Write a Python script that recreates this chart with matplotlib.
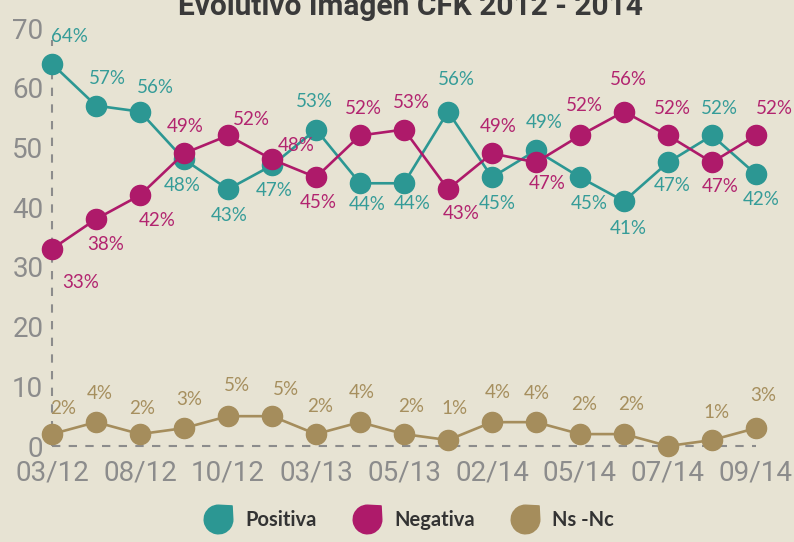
import matplotlib
matplotlib.use("Agg")
import matplotlib.pyplot as plt
import numpy as np
from matplotlib.path import Path
from matplotlib.lines import Line2D

# ---------------- data ----------------
fechas = ["03/12", "", "08/12", "", "10/12", "", "03/13", "", "05/13", "",
          "02/14", "", "05/14", "", "07/14", "", "09/14"]
positiva = [64, 57, 56, 48, 43, 47, 53, 44, 44, 56, 45, 49.5, 45, 41, 47.5, 52, 45.5]
negativa = [33, 38, 42, 49, 52, 48, 45, 52, 53, 43, 49, 47.5, 52, 56, 52, 47.5, 52]
nsnc = [2, 4, 2, 3, 5, 5, 2, 4, 2, 1, 4, 4, 2, 2, 0, 1, 3]

lab_pos = ["64%", "57%", "56%", "48%", "43%", "47%", "53%", "44%", "44%", "56%",
           "45%", "49%", "45%", "41%", "47%", "52%", "42%"]
lab_neg = ["33%", "38%", "42%", "49%", "52%", "48%", "45%", "52%", "53%", "43%",
           "49%", "47%", "52%", "56%", "52%", "47%", "52%"]
lab_ns = ["2%", "4%", "2%", "3%", "5%", "5%", "2%", "4%", "2%", "1%",
          "4%", "4%", "2%", "2%", "", "1%", "3%"]

series_names = ["Positiva", "Negativa", "Ns -Nc"]
y_ticks = [0, 10, 20, 30, 40, 50, 60, 70]
title = "Evolutivo Imagen CFK 2012 - 2014"

# ---------------- style ----------------
BG = "#E7E3D3"
C_POS = "#2C9793"
C_NEG = "#AE1A6A"
C_NS = "#A58D5C"
GRAY = "#8C8C8C"

# label offsets in pixels (dx, dy downward positive)
off_pos = [(17, -27), (11, -27), (15, -24), (-2, 26), (1, 26), (2, 25), (-2, -28),
           (7, 21), (8, 20), (8, -32), (5, 26), (8, -28), (9, 26), (4, 27),
           (4, 23), (7, -27), (5, 25)]
off_neg = [(29, 34), (10, 25), (17, 25), (1, -27), (23, -16), (24, -14), (2, 25),
           (3, -27), (7, -27), (13, 24), (6, -27), (11, 21), (4, -30), (4, -32),
           (4, -27), (8, 24), (18, -27)]
off_ns = [(11, -26), (4, -29), (2, -26), (5, -29), (9, -31), (14, -27), (4, -28),
          (2, -30), (7, -28), (7, -32), (6, -30), (1, -29), (4, -30), (7, -30),
          (0, 0), (5, -28), (7, -33)]

W, H = 794, 542
fig = plt.figure(figsize=(W / 100, H / 100), dpi=100, facecolor=BG)

x = np.arange(len(fechas))
left_px, right_px = 47.6, 786.8
bot_px, top_px = 455.0, 16.06
ax = fig.add_axes([left_px / W, (H - bot_px) / H, (right_px - left_px) / W,
                   (bot_px - top_px) / H])
ax.set_facecolor(BG)
ax.set_xlim(-0.1, 16.7)
ax.set_ylim(-1.5, 72)
for s in ax.spines.values():
    s.set_visible(False)

# reference dashed lines
ax.hlines(0, x[0], x[-1], colors=GRAY, linestyles=(0, (4, 4)), linewidth=1.5, zorder=1)
ax.vlines(x[0], 0, 68, colors=GRAY, linestyles=(0, (4, 4)), linewidth=1.5, zorder=1)

ms = 14.5
lw = 1.9
ax.plot(x, positiva, color=C_POS, lw=lw, marker="o", ms=ms, zorder=3, clip_on=False)
ax.plot(x, nsnc, color=C_NS, lw=lw, marker="o", ms=ms, zorder=3, clip_on=False)
ax.plot(x, negativa, color=C_NEG, lw=lw, marker="o", ms=ms, zorder=4, clip_on=False)

lab_font = dict(family=["Lato", "DejaVu Sans"], fontsize=13.5)
for vals, labs, offs, col in [(positiva, lab_pos, off_pos, "#359C98"),
                              (negativa, lab_neg, off_neg, "#B2246F"),
                              (nsnc, lab_ns, off_ns, "#A68F5E")]:
    for xi, v, t, (dx, dy) in zip(x, vals, labs, offs):
        if not t:
            continue
        ax.annotate(t, (xi, v), xytext=(dx * 0.72, -dy * 0.72),
                    textcoords="offset points", ha="center", va="center",
                    color=col, zorder=5, annotation_clip=False, **lab_font)

ax.set_xticks(x)
ax.set_xticklabels(fechas)
ax.set_yticks(y_ticks)
ax.set_yticklabels([str(v) for v in y_ticks])
ax.tick_params(axis="both", length=0, colors=GRAY, labelsize=20)
ax.tick_params(axis="y", pad=3)
ax.tick_params(axis="x", pad=3.5)
for lbl in ax.get_xticklabels() + ax.get_yticklabels():
    lbl.set_fontfamily(["Roboto", "DejaVu Sans"])
    lbl.set_fontweight("normal")

# title (partially cut at the top, as in the reference)
fig.text(410 / W, 1 - 15 / H, title, ha="center", va="baseline", fontsize=21.5,
         fontweight="bold", color="#3A3A3A", family=["Roboto", "DejaVu Sans"])

# leaf-shaped legend markers
arc = Path.arc(90, 360)
verts = list(arc.vertices) + [(0.95, 0.95), (0, 1)]
codes = list(arc.codes) + [Path.LINETO, Path.CLOSEPOLY]
leaf = Path(verts, codes)

handles = [Line2D([], [], marker=leaf, linestyle="none", markersize=21,
                  markerfacecolor=c, markeredgecolor=c)
           for c in (C_POS, C_NEG, C_NS)]
fig.legend(handles, series_names, loc="lower center", ncol=3, frameon=False,
           bbox_to_anchor=(406 / W, -0.012), columnspacing=1.5, handletextpad=0.35,
           prop=dict(family=["Lato", "DejaVu Sans"], weight="bold", size=14.5),
           labelcolor="#333333")

fig.savefig("out.png", dpi=100, facecolor=BG)
